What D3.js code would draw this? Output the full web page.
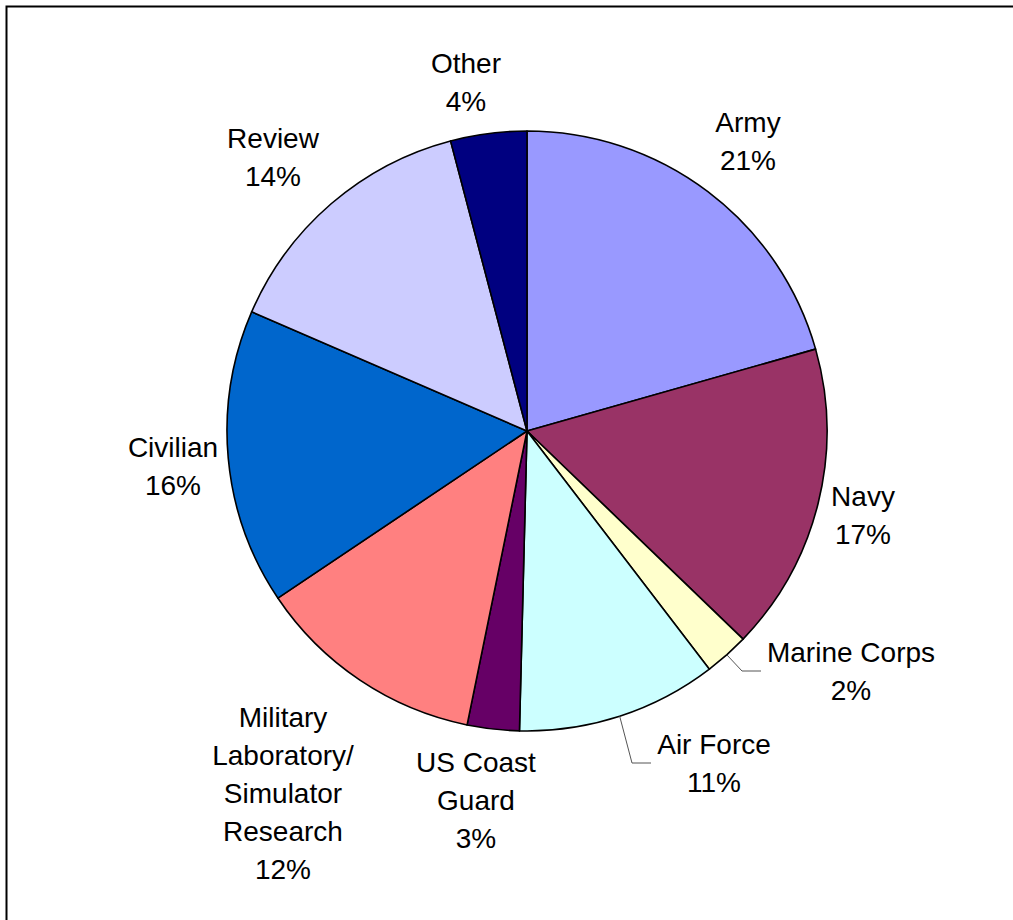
<!DOCTYPE html>
<html>
<head>
<meta charset="utf-8">
<script src="https://cdn.jsdelivr.net/npm/d3@7"></script>
<style>
  body { margin: 0; background: #fff; }
  text { font-family: "Liberation Sans", Arial, sans-serif; font-size: 28px; fill: #000; }
</style>
</head>
<body>
<div id="chart"></div>
<script>
// data (percent of respondents)
var categories = ['Army', 'Navy', 'Marine Corps', 'Air Force', 'US Coast Guard',
  'Military Laboratory/ Simulator Research', 'Civilian', 'Review', 'Other'];
var values = [20.6, 16.6, 2.4, 10.8, 2.8, 12.4, 15.9, 14.4, 4.1];
var colors = ['#9999FF', '#993366', '#FFFFCC', '#CCFFFF', '#660066',
  '#FF8080', '#0066CC', '#CCCCFF', '#000080'];
// label lines, wrapped as in the original
var labelLines = [['Army'], ['Navy'], ['Marine Corps'], ['Air Force'], ['US Coast', 'Guard'],
  ['Military', 'Laboratory/', 'Simulator', 'Research'], ['Civilian'], ['Review'], ['Other']];

// layout: label centre x and first baseline, elbow of leader line (or null)
var labelAt = [[748, 132], [863, 506], [851, 662], [714, 754], [476, 772],
  [283, 727], [173, 457], [273, 148], [466, 73]];
var leaders = [null, null, [[742, 671], [761, 671]], [[632, 763], [651, 763]],
  null, null, null, null, null];

var width = 1013, height = 920;
var cx = 527, cy = 431, radius = 300;
var lineH = 38;

var svg = d3.select('#chart').append('svg')
  .attr('width', width)
  .attr('height', height);

svg.append('rect')
  .attr('x', 6.5).attr('y', 6.5)
  .attr('width', width + 20).attr('height', height + 20)
  .attr('fill', 'none')
  .attr('stroke', '#000')
  .attr('stroke-width', 2);

var pie = d3.pie().sort(null).value(function (d) { return d; });
var arc = d3.arc().innerRadius(0).outerRadius(radius);
var arcs = pie(values);

var g = svg.append('g').attr('transform', 'translate(' + cx + ',' + cy + ')');

g.selectAll('path')
  .data(arcs)
  .enter()
  .append('path')
  .attr('d', arc)
  .attr('fill', function (d, i) { return colors[i]; })
  .attr('stroke', '#000')
  .attr('stroke-width', 1.6)
  .attr('stroke-linejoin', 'round');

// leader lines start on the rim at the slice middle
arcs.forEach(function (d, i) {
  if (!leaders[i]) return;
  var a = (d.startAngle + d.endAngle) / 2;
  var pts = [[cx + radius * Math.sin(a), cy - radius * Math.cos(a)]].concat(leaders[i]);
  svg.append('path')
    .attr('d', d3.line()(pts))
    .attr('fill', 'none')
    .attr('stroke', '#555')
    .attr('stroke-width', 1);
});

var fmt = function (v) { return Math.round(v) + '%'; };

arcs.forEach(function (d, i) {
  var lines = labelLines[i].concat([fmt(values[i])]);
  var t = svg.append('text')
    .attr('text-anchor', 'middle')
    .attr('x', labelAt[i][0])
    .attr('y', labelAt[i][1]);
  lines.forEach(function (s, k) {
    t.append('tspan')
      .attr('x', labelAt[i][0])
      .attr('dy', k === 0 ? 0 : lineH)
      .text(s);
  });
});
</script>
</body>
</html>
